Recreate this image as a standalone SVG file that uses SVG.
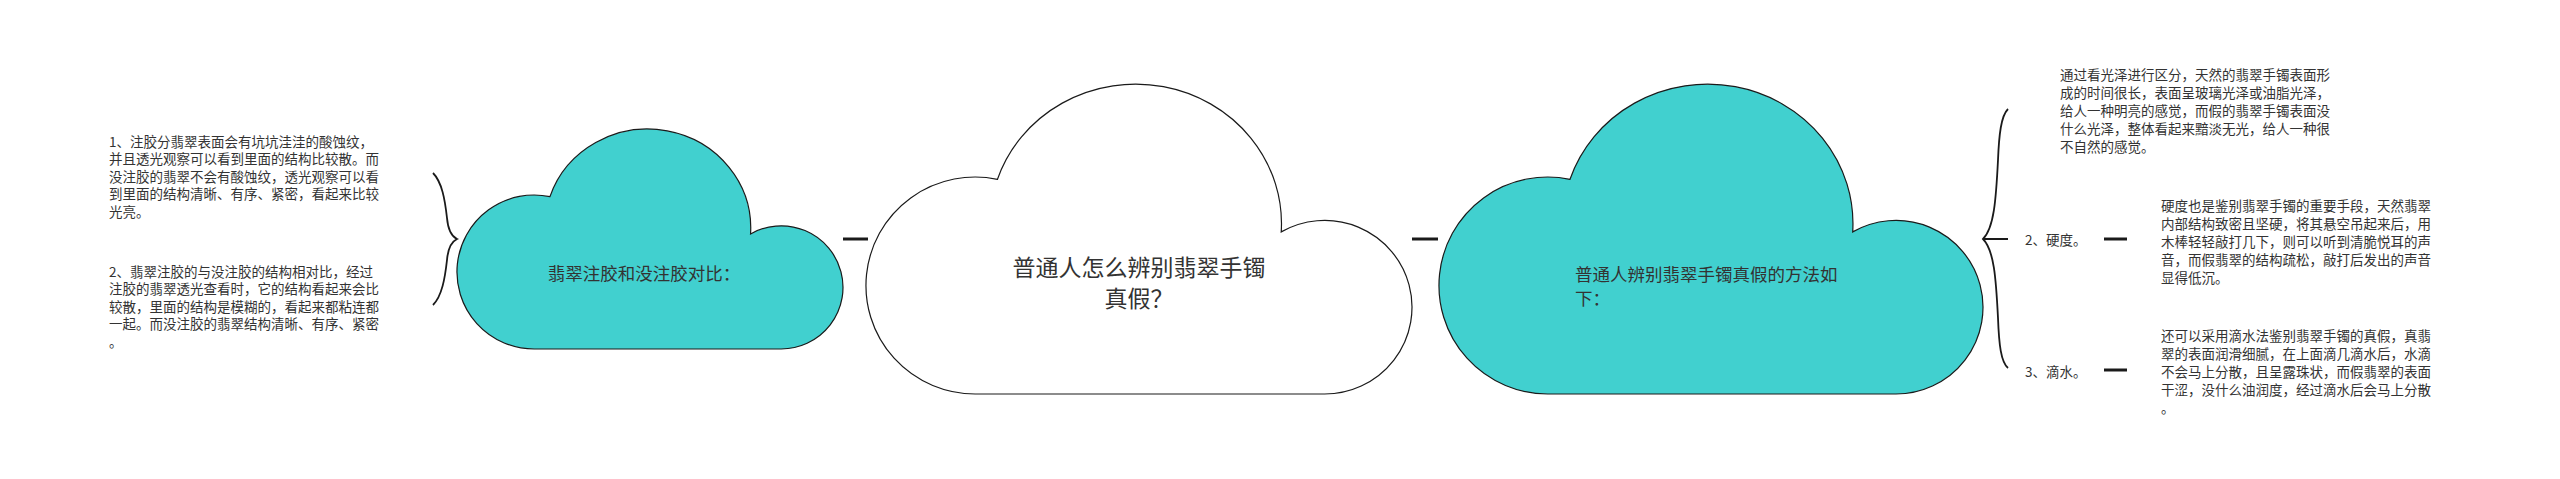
<svg xmlns="http://www.w3.org/2000/svg" width="2560" height="479" viewBox="0 0 2560 479">
<style>
.cloud{stroke:#1a1a1a;stroke-width:1.2}
.teal{fill:#41d0cf}
.white{fill:#ffffff}
.t{font-family:"Noto Sans CJK SC","Microsoft YaHei",sans-serif;fill:#333333;dominant-baseline:central}
.small{font-size:13.5px}
.mid{font-size:17.5px}
.big{font-size:23px}
.conn{stroke:#1a1a1a;stroke-width:3;fill:none}
.brace{stroke:#1a1a1a;stroke-width:1.8;fill:none}
.thin{stroke:#1a1a1a;stroke-width:2;fill:none}
</style>
<rect width="2560" height="479" fill="#ffffff"/>
<g id="connectors">
<line class="conn" x1="843" y1="239" x2="868" y2="239"/>
<line class="conn" x1="1412" y1="239" x2="1438" y2="239"/>
<path class="brace" d="M433,173 C442,182 445,200 447,218 C448,230 451,236 457,239 C451,242 448,248 447,260 C445,278 442,296 433,305"/>
<path class="brace" d="M2008,109 C2001,116 1999,135 1998,160 C1996,200 1994,228 1983,239 C1994,250 1996,278 1998,318 C1999,345 2001,362 2008,368"/>
<line class="thin" x1="1983" y1="239" x2="2008" y2="239"/>
<line class="conn" x1="2104" y1="239" x2="2127" y2="239"/>
<line class="conn" x1="2104" y1="370" x2="2127" y2="370"/>
</g>
<g id="node-left">
<path class="cloud teal" d="M549.95,196.63 A103.06,99 0 0 1 750.55,233.94 A61.76,61.6 0 1 1 781.24,349 L534.2,349 A77.2,77 0 1 1 549.95,196.63 Z"/>
<text class="t mid" x="644" y="272" text-anchor="middle">翡翠注胶和没注胶对比：</text>
</g>
<g id="node-center">
<path class="cloud white" d="M997.48,179.29 A145.78,139.5 0 0 1 1281.23,231.87 A87.36,86.8 0 1 1 1324.64,394 L975.2,394 A109.2,108.5 0 1 1 997.48,179.29 Z"/>
<text class="t big" x="1139" y="266" text-anchor="middle">普通人怎么辨别翡翠手镯</text>
<text class="t big" x="1139" y="297" text-anchor="middle">真假？</text>
</g>
<g id="node-right">
<path class="cloud teal" d="M1570,179.29 A145.25,139.5 0 0 1 1852.71,231.87 A87.04,86.8 0 1 1 1895.96,394 L1547.8,394 A108.8,108.5 0 1 1 1570,179.29 Z"/>
<text class="t mid" x="1575" y="273">普通人辨别翡翠手镯真假的方法如</text>
<text class="t mid" x="1575" y="297">下：</text>
</g>
<g id="node-left-1">
<text class="t small" x="109" y="141">1、注胶分翡翠表面会有坑坑洼洼的酸蚀纹，</text>
<text class="t small" x="109" y="158.4">并且透光观察可以看到里面的结构比较散。而</text>
<text class="t small" x="109" y="175.8">没注胶的翡翠不会有酸蚀纹，透光观察可以看</text>
<text class="t small" x="109" y="193.2">到里面的结构清晰、有序、紧密，看起来比较</text>
<text class="t small" x="109" y="210.6">光亮。</text>
</g>
<g id="node-left-2">
<text class="t small" x="109" y="271">2、翡翠注胶的与没注胶的结构相对比，经过</text>
<text class="t small" x="109" y="288.4">注胶的翡翠透光查看时，它的结构看起来会比</text>
<text class="t small" x="109" y="305.8">较散，里面的结构是模糊的，看起来都粘连都</text>
<text class="t small" x="109" y="323.2">一起。而没注胶的翡翠结构清晰、有序、紧密</text>
<text class="t small" x="109" y="340.6">。</text>
</g>
<g id="node-right-1">
<text class="t small" x="2060" y="74">通过看光泽进行区分，天然的翡翠手镯表面形</text>
<text class="t small" x="2060" y="92">成的时间很长，表面呈玻璃光泽或油脂光泽，</text>
<text class="t small" x="2060" y="110">给人一种明亮的感觉，而假的翡翠手镯表面没</text>
<text class="t small" x="2060" y="128">什么光泽，整体看起来黯淡无光，给人一种很</text>
<text class="t small" x="2060" y="146">不自然的感觉。</text>
</g>
<g id="node-right-2-label">
<text class="t small" x="2025" y="239">2、硬度。</text>
</g>
<g id="node-right-2">
<text class="t small" x="2161" y="205">硬度也是鉴别翡翠手镯的重要手段，天然翡翠</text>
<text class="t small" x="2161" y="223">内部结构致密且坚硬，将其悬空吊起来后，用</text>
<text class="t small" x="2161" y="241">木棒轻轻敲打几下，则可以听到清脆悦耳的声</text>
<text class="t small" x="2161" y="259">音，而假翡翠的结构疏松，敲打后发出的声音</text>
<text class="t small" x="2161" y="277">显得低沉。</text>
</g>
<g id="node-right-3-label">
<text class="t small" x="2025" y="371">3、滴水。</text>
</g>
<g id="node-right-3">
<text class="t small" x="2161" y="335">还可以采用滴水法鉴别翡翠手镯的真假，真翡</text>
<text class="t small" x="2161" y="353">翠的表面润滑细腻，在上面滴几滴水后，水滴</text>
<text class="t small" x="2161" y="371">不会马上分散，且呈露珠状，而假翡翠的表面</text>
<text class="t small" x="2161" y="389">干涩，没什么油润度，经过滴水后会马上分散</text>
<text class="t small" x="2161" y="407">。</text>
</g>
</svg>
